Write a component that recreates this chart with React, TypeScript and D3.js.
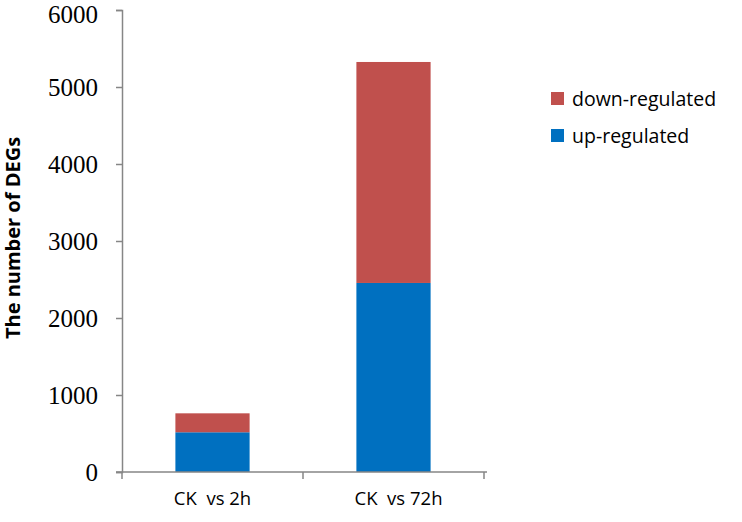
import { useEffect, useRef } from 'react'
import * as d3 from 'd3'

const categories = ['CK  vs 2h', 'CK  vs 72h']
const upRegulated = [516, 2455]
const downRegulated = [246, 2870]
const seriesNames = ['up-regulated', 'down-regulated']
const yTicks = [0, 1000, 2000, 3000, 4000, 5000, 6000]

const colors: Record<string, string> = {
  'up-regulated': '#0070C0',
  'down-regulated': '#C0504D',
}

function App() {
  const ref = useRef<SVGSVGElement>(null)

  useEffect(() => {
    const width = 742,
      height = 522,
      left = 122,
      right = 484,
      top = 10,
      bottom = 472

    const svg = d3.select(ref.current)
    svg.selectAll('*').remove()
    svg.attr('width', width).attr('height', height)

    const x = d3.scaleBand().domain(categories).range([left, right]).paddingInner(0).paddingOuter(0)
    const y = d3.scaleLinear().domain([0, 6000]).range([bottom, top])

    const table = categories.map((c, i) => ({
      category: c,
      'up-regulated': upRegulated[i],
      'down-regulated': downRegulated[i],
    }))
    const stack = d3.stack<any>().keys(seriesNames)(table)

    const barW = x.bandwidth() * 0.41

    svg
      .append('g')
      .selectAll('g')
      .data(stack)
      .enter()
      .append('g')
      .attr('fill', (d) => colors[d.key])
      .selectAll('rect')
      .data((d) => d)
      .enter()
      .append('rect')
      .attr('x', (d: any) => x(d.data.category)! + (x.bandwidth() - barW) / 2)
      .attr('width', barW)
      .attr('y', (d) => y(d[1]))
      .attr('height', (d) => y(d[0]) - y(d[1]))

    const axisColor = '#868686'

    // y axis
    const yAxis = d3.axisLeft(y).tickValues(yTicks).tickSize(6).tickPadding(18).tickFormat(d3.format('d'))
    const gy = svg.append('g').attr('transform', 'translate(' + left + ',0)').call(yAxis)
    gy.select('.domain').attr('stroke', axisColor).attr('stroke-width', 1.5)
    gy.selectAll('.tick line').attr('stroke', axisColor).attr('stroke-width', 1.5)
    gy.selectAll('.tick text')
      .attr('fill', '#000')
      // top label sits at the edge of the picture, nudge it down a little
      .attr('dy', (d: any) => (d === 6000 ? '0.5em' : '0.34em'))
      .attr('font-family', '"Liberation Serif", "Times New Roman", serif')
      .attr('font-size', 25)

    // x axis
    const gx = svg.append('g').attr('transform', 'translate(0,' + bottom + ')')
    gx.append('line')
      .attr('x1', left - 6)
      .attr('x2', right + 3)
      .attr('stroke', axisColor)
      .attr('stroke-width', 1.5)
    const edges = [left, ...categories.map((c) => x(c)! + x.bandwidth())]
    gx.selectAll('.xt')
      .data(edges)
      .enter()
      .append('line')
      .attr('x1', (d) => d)
      .attr('x2', (d) => d)
      .attr('y1', 0)
      .attr('y2', 7)
      .attr('stroke', axisColor)
      .attr('stroke-width', 1.5)
    gx.selectAll('.xl')
      .data(categories)
      .enter()
      .append('text')
      .attr('x', (d, i) => x(d)! + x.bandwidth() / 2 + i * 5)
      .attr('y', 33)
      .attr('text-anchor', 'middle')
      .attr('font-family', '"Open Sans", sans-serif')
      .attr('font-size', 18.5)
      .style('white-space', 'pre')
      .text((d) => d)

    // y label
    svg
      .append('text')
      .attr('transform', 'translate(20,' + 238 + ') rotate(-90)')
      .attr('text-anchor', 'middle')
      .attr('font-family', '"Open Sans", sans-serif')
      .attr('font-weight', 'bold')
      .attr('font-size', 20)
      .text('The number of DEGs')

    // legend
    const legendItems = ['down-regulated', 'up-regulated']
    const lg = svg.append('g').attr('transform', 'translate(551,92)')
    legendItems.forEach((k, i) => {
      lg.append('rect')
        .attr('x', 0)
        .attr('y', i * 37)
        .attr('width', 13)
        .attr('height', 13)
        .attr('fill', colors[k])
      lg.append('text')
        .attr('x', 21)
        .attr('y', i * 37 + 14)
        .attr('font-family', '"Open Sans", sans-serif')
        .attr('font-size', 19.5)
        .text(k)
    })
  })

  return <svg ref={ref} style={{ position: 'absolute', left: 0, top: 0 }}></svg>
}

export default App
